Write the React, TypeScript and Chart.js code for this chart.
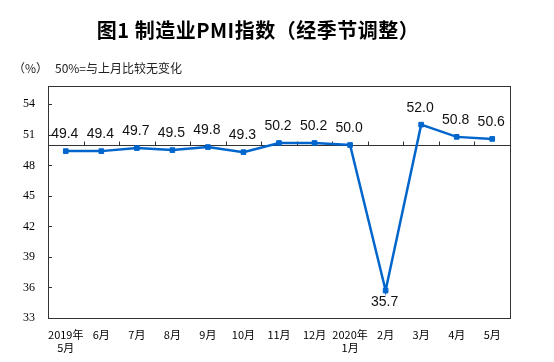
import React, { useEffect, useRef } from "react";
import { Chart, registerables } from "chart.js";

Chart.register(...registerables);

const categories: (string | string[])[] = [
  ["2019年", "5月"], "6月", "7月", "8月", "9月", "10月", "11月", "12月",
  ["2020年", "1月"], "2月", "3月", "4月", "5月",
];
const pmiValues: number[] = [49.4, 49.4, 49.7, 49.5, 49.8, 49.3, 50.2, 50.2, 50.0, 35.7, 52.0, 50.8, 50.6];
const yTickValues: number[] = [33, 36, 39, 42, 45, 48, 51, 54];
const baseline = 50;
const titleText = "图1 制造业PMI指数（经季节调整）";
const unitText = "（%）";
const noteText = "50%=与上月比较无变化";

const framePlugin = {
  id: "frame",
  beforeDatasetsDraw(chart: any) {
    const { ctx, chartArea } = chart;
    const x = chart.scales.x;
    const y = chart.scales.y;
    ctx.save();
    ctx.strokeStyle = "#333333";
    ctx.lineWidth = 1;
    ctx.strokeRect(Math.round(chartArea.left) + 0.5, Math.round(chartArea.top) + 0.5,
      Math.round(chartArea.right - chartArea.left), Math.round(chartArea.bottom - chartArea.top));
    yTickValues.forEach((v) => {
      const py = Math.round(y.getPixelForValue(v)) + 0.5;
      ctx.beginPath();
      ctx.moveTo(chartArea.left, py);
      ctx.lineTo(chartArea.left + 4, py);
      ctx.stroke();
    });
    const by = Math.round(y.getPixelForValue(baseline)) + 0.5;
    ctx.beginPath();
    ctx.moveTo(chartArea.left, by);
    ctx.lineTo(chartArea.right, by);
    ctx.stroke();
    const n = categories.length;
    for (let i = 1; i < n; i++) {
      const px = Math.round((x.getPixelForValue(i - 1) + x.getPixelForValue(i)) / 2) + 0.5;
      ctx.beginPath();
      ctx.moveTo(px, by);
      ctx.lineTo(px, by - 4);
      ctx.stroke();
    }
    ctx.restore();
  },
};

const textPlugin = {
  id: "texts",
  afterDraw(chart: any) {
    const { ctx } = chart;
    ctx.save();
    ctx.fillStyle = "#000";
    ctx.textBaseline = "middle";
    ctx.textAlign = "center";
    ctx.font = "bold 20px 'Noto Sans CJK SC'";
    try { (ctx as any).letterSpacing = "0.5px"; } catch (e) {}
    ctx.fillText(titleText, 258, 30);
    try { (ctx as any).letterSpacing = "0px"; } catch (e) {}
    ctx.textAlign = "left";
    ctx.font = "12px 'Noto Sans CJK SC'";
    ctx.fillStyle = "#222";
    ctx.fillText(unitText, 13, 68);
    ctx.fillText(noteText, 55, 68);
    const meta = chart.getDatasetMeta(0);
    ctx.font = "14px 'Liberation Sans'";
    ctx.fillStyle = "#111";
    ctx.textAlign = "center";
    meta.data.forEach((pt: any, i: number) => {
      const v = pmiValues[i];
      const below = v < 40;
      ctx.fillText(v.toFixed(1), pt.x - 1, below ? pt.y + 12 : pt.y - 17);
    });
    ctx.restore();
  },
};

export default function App() {
  const ref = useRef<HTMLCanvasElement | null>(null);
  useEffect(() => {
    if (!ref.current) return;
    const chart = new Chart(ref.current, {
      type: "line",
      data: {
        labels: categories as any,
        datasets: [
          {
            data: pmiValues,
            borderColor: "#0066CC",
            backgroundColor: "#0066CC",
            borderWidth: 2.5,
            pointStyle: "rect",
            pointRadius: 3.3,
            pointBorderWidth: 1,
            pointBackgroundColor: "#0066CC",
            pointBorderColor: "#0066CC",
            tension: 0,
          },
        ],
      },
      options: {
        responsive: false,
        animation: false,
        devicePixelRatio: 1,
        layout: { padding: { left: 8, right: 44, top: 86, bottom: 0 } },
        plugins: { legend: { display: false }, tooltip: { enabled: false }, title: { display: false } },
        scales: {
          x: {
            type: "category",
            offset: true,
            border: { display: false },
            grid: { display: false, drawTicks: false },
            ticks: {
              color: "#000",
              font: { family: "'Noto Sans CJK SC'", size: 11 },
              padding: 10,
              maxRotation: 0,
              autoSkip: false,
            },
            afterFit: (s: any) => { s.height = 44; },
          },
          y: {
            min: 33,
            max: 55.8,
            border: { display: false },
            grid: { display: false, drawTicks: false },
            ticks: {
              color: "#000",
              font: { family: "'Liberation Serif'", size: 12 },
              padding: 13,
            },
            afterBuildTicks: (s: any) => { s.ticks = yTickValues.map((v) => ({ value: v })); },
            afterFit: (s: any) => { s.width = 40; },
          },
        },
      },
      plugins: [framePlugin, textPlugin],
    });
    return () => chart.destroy();
  }, []);
  return (
    <div style={{ position: "fixed", left: 0, top: 0, width: 554, height: 362, background: "#fff" }}>
      <canvas ref={ref} width={554} height={362} style={{ width: 554, height: 362 }} />
    </div>
  );
}
